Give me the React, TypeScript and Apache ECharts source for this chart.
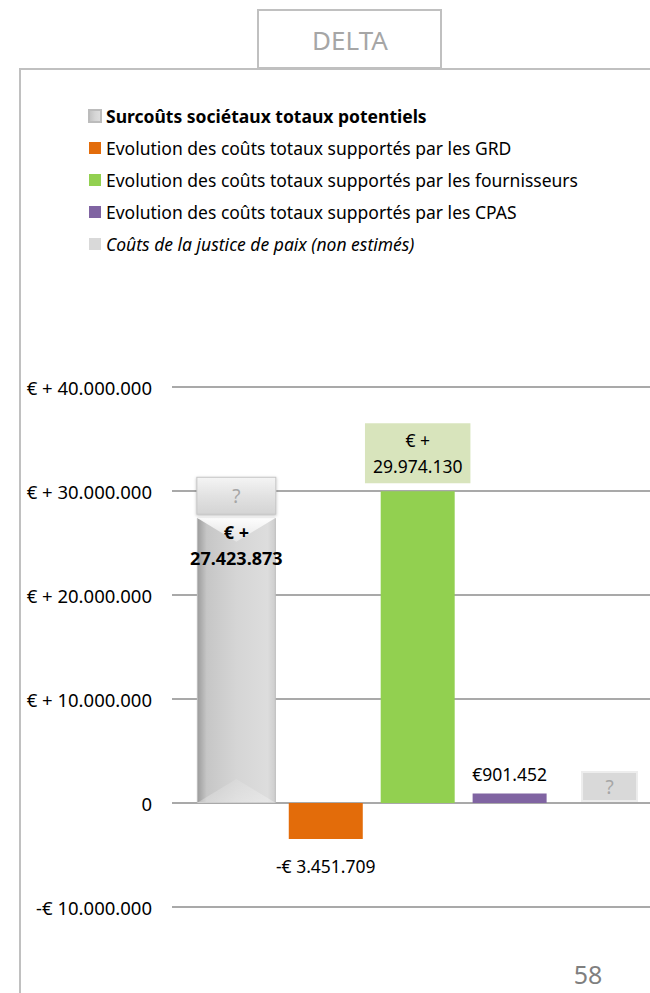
import React, { useEffect, useRef } from "react";
import * as echarts from "echarts";

const categories = [
  "Surcoûts sociétaux totaux potentiels",
  "Evolution des coûts totaux supportés par les GRD",
  "Evolution des coûts totaux supportés par les fournisseurs",
  "Evolution des coûts totaux supportés par les CPAS",
  "Coûts de la justice de paix (non estimés)",
];
const values = [27423873, -3451709, 29974130, 901452, 0];
const valueLabels = ["€ +\n27.423.873", "-€ 3.451.709", "€ +\n29.974.130", "€901.452", "?"];
const yMin = -10000000;
const yMax = 40000000;
const yInterval = 10000000;

const FONT = "Noto Sans";

function fmtThousands(n: number): string {
  return Math.abs(Math.round(n)).toString().replace(/\B(?=(\d{3})+(?!\d))/g, ".");
}
function yLabel(v: number): string {
  if (v === 0) return "0";
  if (v > 0) return "€ + " + fmtThousands(v);
  return "-€ " + fmtThousands(v);
}

export default function App() {
  const ref = useRef<HTMLDivElement>(null);
  useEffect(() => {
    if (!ref.current) return;
    const chart = echarts.init(ref.current, null, { renderer: "svg" });
    const grayGrad = new echarts.graphic.LinearGradient(0, 0, 1, 0, [
      { offset: 0, color: "#9c9c9c" },
      { offset: 0.12, color: "#c6c6c6" },
      { offset: 0.5, color: "#d5d5d5" },
      { offset: 0.9, color: "#dddddd" },
      { offset: 1, color: "#cdcdcd" },
    ]);
    const colors: any[] = [grayGrad, "#e36c0a", "#92d050", "#8064a2", "#d9d9d9"];
    const labelCfg: any[] = [
      { show: false },
      {
        show: true,
        position: "bottom",
        distance: 17,
        fontSize: 17.5,
        lineHeight: 20,
        color: "#000",
        fontFamily: FONT,
      },
      {
        show: true,
        position: "top",
        distance: 8,
        fontSize: 17.5,
        lineHeight: 26,
        color: "#000",
        fontFamily: FONT,
        backgroundColor: "#d8e4bc",
        padding: [4, 8, 4, 8],
      },
      {
        show: true,
        position: "top",
        distance: 10,
        fontSize: 17.5,
        lineHeight: 20,
        color: "#000",
        fontFamily: FONT,
      },
      {
        show: true,
        position: "top",
        distance: 3,
        offset: [8, 0],
        fontSize: 19,
        color: "#a6a6a6",
        fontFamily: FONT,
        backgroundColor: "#d9d9d9",
        borderColor: "#ededed",
        borderWidth: 2,
        width: 53,
        height: 27,
        lineHeight: 27,
        align: "center",
      },
    ];
    const series: any[] = categories.map((name, i) => ({
      type: "bar",
      name,
      data: [[i, values[i]]],
      barWidth: i === 0 ? 79 : 74,
      barGap: "-100%",
      itemStyle: {
        color: colors[i],
        borderColor: i === 0 ? "#bcbcbc" : undefined,
        borderWidth: i === 0 ? 1 : 0,
      },
      label: { ...labelCfg[i], formatter: () => valueLabels[i] },
      z: i === 0 ? 1 : 2,
    }));
    // bevel overlay for the first bar
    series.push({
      type: "custom",
      name: "bevel",
      data: [[0, values[0]]],
      encode: { x: 0, y: 1 },
      z: 1.5,
      silent: true,
      renderItem: (params: any, api: any) => {
        const x = api.value(0);
        const v = api.value(1);
        const top = api.coord([x, v]);
        const bot = api.coord([x, 0]);
        const w = 79;
        const d = 24;
        const l = top[0] - w / 2;
        const r = top[0] + w / 2;
        return {
          type: "group",
          children: [
            {
              type: "polygon",
              shape: { points: [[l, top[1]], [r, top[1]], [top[0], top[1] + d]] },
              style: {
                fill: new echarts.graphic.LinearGradient(0, 0, 0, 1, [
                  { offset: 0, color: "rgba(255,255,255,0.95)" },
                  { offset: 1, color: "rgba(255,255,255,0.35)" },
                ]),
              },
            },
            {
              type: "polygon",
              shape: { points: [[l, bot[1]], [r, bot[1]], [top[0], bot[1] - d]] },
              style: {
                fill: new echarts.graphic.LinearGradient(0, 0, 0, 1, [
                  { offset: 0, color: "rgba(255,255,255,0.1)" },
                  { offset: 1, color: "rgba(255,255,255,0.3)" },
                ]),
              },
            },
          ],
        };
      },
    });
    series.push({
      type: "bar",
      name: "valeur",
      data: [[0, values[0]]],
      barWidth: 79,
      barGap: "-100%",
      itemStyle: { color: "rgba(0,0,0,0)" },
      label: {
        show: true,
        position: "insideTop",
        distance: 1,
        formatter: () => valueLabels[0],
        fontWeight: "bold",
        fontSize: 18,
        lineHeight: 26,
        color: "#000",
        fontFamily: FONT,
      },
      z: 3,
    });
    series.push({
      type: "bar",
      name: "inconnu",
      data: [[0, values[0]]],
      barWidth: 79,
      barGap: "-100%",
      itemStyle: { color: "rgba(0,0,0,0)" },
      label: {
        show: true,
        position: "top",
        distance: 4,
        formatter: () => "?",
        fontSize: 19,
        color: "#a6a6a6",
        fontFamily: FONT,
        backgroundColor: new echarts.graphic.LinearGradient(0, 0, 0, 1, [
          { offset: 0, color: "#f4f4f4" },
          { offset: 0.5, color: "#e2e2e2" },
          { offset: 1, color: "#d4d4d4" },
        ]),
        borderColor: "#c4c4c4",
        borderWidth: 1,
        width: 78,
        height: 36,
        lineHeight: 36,
        align: "center",
        shadowBlur: 3,
        shadowColor: "rgba(0,0,0,0.25)",
        shadowOffsetY: 1,
      },
      z: 3,
    });

    chart.setOption({
      animation: false,
      textStyle: { fontFamily: FONT },
      legend: {
        data: categories,
        orient: "vertical",
        left: 88,
        top: 106,
        padding: 0,
        itemWidth: 12,
        itemHeight: 12,
        itemGap: 12,
        icon: "rect",
        selectedMode: false,
        formatter: (name: string) => {
          const idx = categories.indexOf(name);
          if (idx === 0) return "{b|" + name + "}";
          if (idx === 4) return "{i|" + name + "}";
          return name;
        },
        textStyle: {
          fontSize: 17.5,
          lineHeight: 20,
          color: "#000",
          fontFamily: FONT,
          rich: {
            b: { fontWeight: "bold", fontSize: 17.5, lineHeight: 20, color: "#000", fontFamily: FONT },
            i: { fontStyle: "italic", fontSize: 17.5, lineHeight: 20, color: "#000", fontFamily: FONT },
          },
        },
      },
      grid: { left: 172, right: 0, top: 387, bottom: 86, containLabel: false },
      xAxis: {
        type: "value",
        min: -0.7,
        max: 4.5,
        show: false,
        splitLine: { show: false },
      },
      yAxis: {
        type: "value",
        min: yMin,
        max: yMax,
        interval: yInterval,
        axisLine: { show: false },
        axisTick: { show: false },
        axisLabel: {
          formatter: yLabel,
          fontSize: 18.5,
          color: "#000",
          fontFamily: FONT,
          margin: 20,
        },
        splitLine: { show: true, lineStyle: { color: "#8c8c8c", width: 1.5 } },
      },
      series,
      graphic: [
        {
          type: "line",
          shape: { x1: 20, y1: 69, x2: 650, y2: 69 },
          style: { stroke: "#c0c0c0", lineWidth: 2 },
        },
        {
          type: "line",
          shape: { x1: 20, y1: 68, x2: 20, y2: 993 },
          style: { stroke: "#c0c0c0", lineWidth: 2 },
        },
        {
          type: "rect",
          shape: { x: 258, y: 10, width: 183, height: 58 },
          style: { fill: "#fff", stroke: "#c0c0c0", lineWidth: 2 },
        },
        {
          type: "text",
          x: 350,
          y: 40,
          style: {
            text: "DELTA",
            fontSize: 26,
            fill: "#a6a6a6",
            fontFamily: FONT,
            align: "center",
            verticalAlign: "middle",
          },
        },
        {
          type: "text",
          x: 588,
          y: 974,
          style: {
            text: "58",
            fontSize: 25,
            fill: "#7f7f7f",
            fontFamily: FONT,
            align: "center",
            verticalAlign: "middle",
          },
        },
      ],
    });
    return () => chart.dispose();
  }, []);
  return (
    <div
      ref={ref}
      style={{ position: "fixed", left: 0, top: 0, width: 650, height: 993, background: "#fff" }}
    />
  );
}
